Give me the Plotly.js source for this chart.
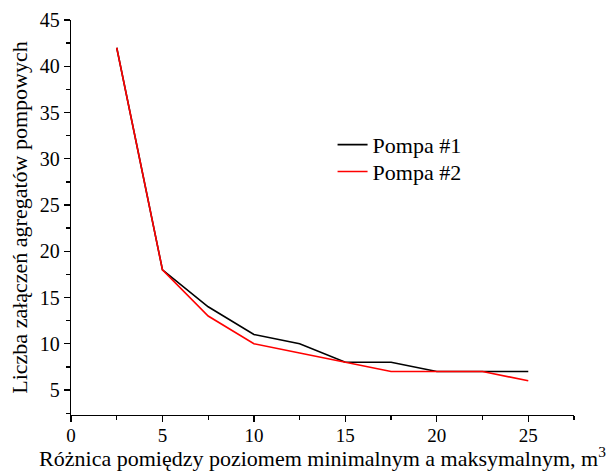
<!DOCTYPE html>
<html><head><meta charset="utf-8">
<script src="https://cdn.plot.ly/plotly-3.0.1.min.js"></script>
<style>body{margin:0}</style></head>
<body><div id="chart" style="width:614px;height:471px"></div>
<script>
const xValues = [2.5, 5, 7.5, 10, 12.5, 15, 17.5, 20, 22.5, 25];
const pompa1 = [42, 18, 14, 11, 10, 8, 8, 7, 7, 7];
const pompa2 = [42, 18, 13, 10, 9, 8, 7, 7, 7, 6];
const seriesNames = ['Pompa #1', 'Pompa #2'];

const FAM = 'Liberation Serif';
const traces = [
  {x: xValues, y: pompa1, name: seriesNames[0], mode: 'lines', line: {color: '#000000', width: 1.6}, legend: 'legend'},
  {x: xValues, y: pompa2, name: seriesNames[1], mode: 'lines', line: {color: '#ff0000', width: 1.6}, legend: 'legend2'}
];
const axisCommon = {
  showline: true, linecolor: '#000', linewidth: 1.3, showgrid: false, zeroline: false,
  ticks: 'outside', ticklen: 6, tickwidth: 1.3, tickcolor: '#000',
  tickfont: {family: FAM, size: 20, color: '#000'}
};
const legendCommon = {x: 0.52, xanchor: 'left', yanchor: 'middle', font: {family: FAM, size: 22, color: '#000'}, bgcolor: 'rgba(0,0,0,0)'};
const layout = {
  width: 614, height: 471,
  font: {family: FAM, color: '#000'},
  margin: {l: 71, r: 40, t: 20, b: 56},
  paper_bgcolor: '#fff', plot_bgcolor: '#fff',
  showlegend: true,
  legend: Object.assign({}, legendCommon, {y: 0.684}),
  legend2: Object.assign({}, legendCommon, {y: 0.616}),
  xaxis: Object.assign({}, axisCommon, {
    range: [0, 27.5], tickvals: [0, 5, 10, 15, 20, 25], ticklabelstandoff: -3,
    tickfont: {family: FAM, size: 19, color: '#000'},
    minor: {tickvals: [2.5, 7.5, 12.5, 17.5, 22.5, 27.5], ticks: 'outside', ticklen: 4, tickwidth: 1.3, tickcolor: '#000', showgrid: false},
    title: {text: 'Różnica pomiędzy poziomem minimalnym a maksymalnym, m<sup>3</sup>', font: {family: FAM, size: 22, color: '#000'}, standoff: 2}
  }),
  yaxis: Object.assign({}, axisCommon, {
    range: [2.3, 45], tickvals: [5, 10, 15, 20, 25, 30, 35, 40, 45],
    minor: {tickvals: [2.5, 7.5, 12.5, 17.5, 22.5, 27.5, 32.5, 37.5, 42.5], ticks: 'outside', ticklen: 4, tickwidth: 1.3, tickcolor: '#000', showgrid: false},
    title: {text: 'Liczba załączeń agregatów pompowych', font: {family: FAM, size: 22, color: '#000'}, standoff: 6}
  })
};
Plotly.newPlot('chart', traces, layout, {displayModeBar: false, staticPlot: true});
</script></body></html>
